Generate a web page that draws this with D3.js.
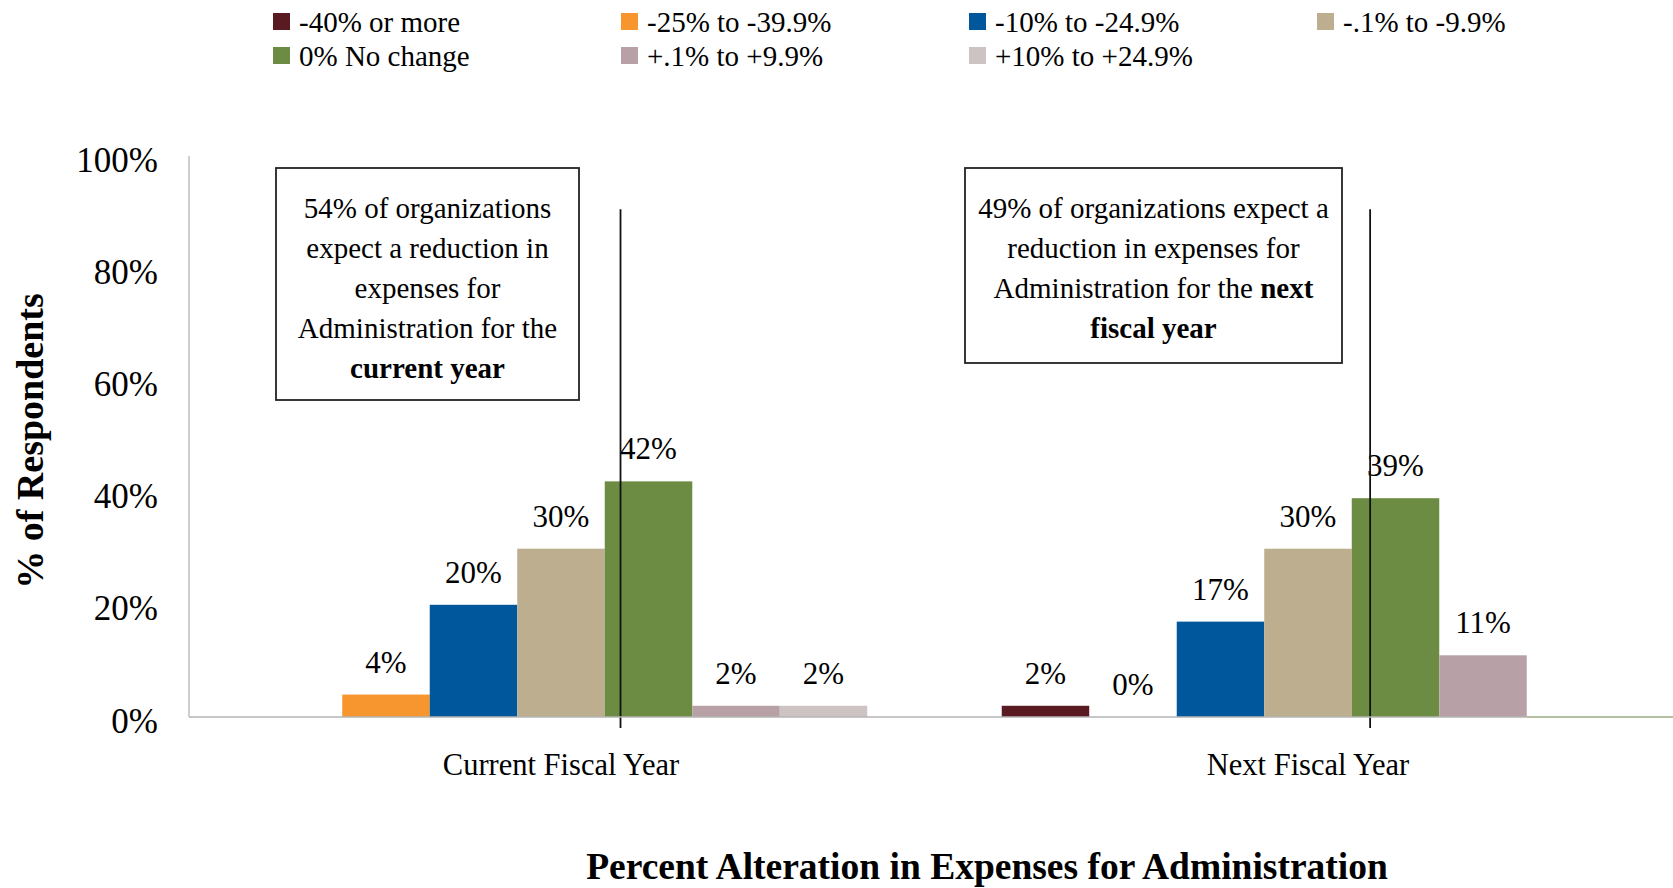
<!DOCTYPE html>
<html>
<head>
<meta charset="utf-8">
<script src="https://cdn.jsdelivr.net/npm/d3@7"></script>
<style>
  body { margin: 0; background: #fff; }
  svg { display: block; font-family: "Liberation Serif", "Times New Roman", serif; }
</style>
</head>
<body>
<svg></svg>
<script>
// chart data
const categories = ['Current Fiscal Year', 'Next Fiscal Year'];
const seriesNames = ['-40% or more', '-25% to -39.9%', '-10% to -24.9%', '-.1% to -9.9%',
    '0% No change', '+.1% to +9.9%', '+10% to +24.9%'];
const seriesColors = ['#5a1a22', '#f7962f', '#01579b', '#bcae8e', '#6b8c42', '#b8a1a6', '#cdc3c3'];
const currentValues = [0, 4, 20, 30, 42, 2, 2];
const nextValues = [2, 0, 17, 30, 39, 11, 0];
// which labels are printed (null = no label)
const currentLabels = [null, '4%', '20%', '30%', '42%', '2%', '2%'];
const nextLabels = ['2%', '0%', '17%', '30%', '39%', '11%', null];
const yTicks = [0, 20, 40, 60, 80, 100];

const values = [currentValues, nextValues];
const labels = [currentLabels, nextLabels];

const size = {w: 1673, h: 888};
const margin = {t: 156, b: 171, l: 189};

const svg = d3.select('svg')
    .attr('width', size.w)
    .attr('height', size.h);

// scales
const x0 = d3.scaleBand()
    .domain(categories)
    .range([margin.l, 1680])
    .paddingInner(0.18)
    .paddingOuter(0.088);

const x1 = d3.scaleBand()
    .domain(seriesNames)
    .range([0, x0.bandwidth()]);

const y = d3.scaleLinear()
    .domain([0, 100])
    .range([size.h - margin.b, margin.t]);

// y axis line
svg.append('line')
    .attr('x1', margin.l).attr('x2', margin.l)
    .attr('y1', y(100)).attr('y2', y(0))
    .attr('stroke', '#cfcfcf')
    .attr('stroke-width', 2);

// y tick labels
svg.append('g')
    .selectAll('text')
    .data(yTicks)
    .join('text')
    .attr('x', margin.l - 31)
    .attr('y', d => y(d) + 4)
    .attr('text-anchor', 'end')
    .attr('dominant-baseline', 'central')
    .attr('font-size', 35)
    .text(d => d + '%');

// bars
const groups = svg.append('g')
    .selectAll('g')
    .data(categories)
    .join('g')
    .attr('transform', d => 'translate(' + x0(d) + ',0)');

groups.selectAll('rect')
    .data((d, i) => values[i].map((v, j) => ({name: seriesNames[j], value: v, color: seriesColors[j]})))
    .join('rect')
    .attr('x', d => x1(d.name))
    .attr('y', d => y(d.value))
    .attr('width', x1.bandwidth())
    .attr('height', d => y(0) - y(d.value))
    .attr('fill', d => d.color);

// value labels
groups.selectAll('text.val')
    .data((d, i) => values[i].map((v, j) => ({name: seriesNames[j], value: v, label: labels[i][j]}))
        .filter(d => d.label !== null))
    .join('text')
    .classed('val', true)
    .attr('x', d => x1(d.name) + x1.bandwidth() / 2)
    .attr('y', d => y(d.value) - 22)
    .attr('text-anchor', 'middle')
    .attr('font-size', 31)
    .text(d => d.label);

// baseline (gray, turning green after the last bar of the second group)
const greenFrom = x0(categories[1]) + x1(seriesNames[6]);
svg.append('line')
    .attr('x1', margin.l).attr('x2', greenFrom)
    .attr('y1', y(0)).attr('y2', y(0))
    .attr('stroke', '#b5b5b5')
    .attr('stroke-width', 1.5);
svg.append('line')
    .attr('x1', greenFrom).attr('x2', size.w)
    .attr('y1', y(0)).attr('y2', y(0))
    .attr('stroke', '#9aab82')
    .attr('stroke-width', 1.5);

// category labels
svg.append('g')
    .selectAll('text')
    .data(categories)
    .join('text')
    .attr('x', d => x0(d) + x0.bandwidth() / 2)
    .attr('y', 765)
    .attr('text-anchor', 'middle')
    .attr('dominant-baseline', 'central')
    .attr('font-size', 30.5)
    .text(d => d);

// vertical marker lines through the "no change" bars
const markerTop = 90.5;
groups.append('line')
    .attr('x1', (d, i) => x1('0% No change') + x1.bandwidth() * (i ? 0.21 : 0.18))
    .attr('x2', (d, i) => x1('0% No change') + x1.bandwidth() * (i ? 0.21 : 0.18))
    .attr('y1', y(markerTop))
    .attr('y2', y(0) + 11)
    .attr('stroke', '#111')
    .attr('stroke-width', 1.8);

// annotation boxes
const notes = [
    {x: 276, y: 168, w: 303, h: 232, lines: [
        [['54% of organizations', false]],
        [['expect a reduction in', false]],
        [['expenses for', false]],
        [['Administration for the', false]],
        [['current year', true]]
    ]},
    {x: 965, y: 168, w: 377, h: 195, lines: [
        [['49% of organizations expect a', false]],
        [['reduction in expenses for', false]],
        [['Administration for the ', false], ['next', true]],
        [['fiscal year', true]]
    ]}
];

const note = svg.append('g')
    .selectAll('g')
    .data(notes)
    .join('g');

note.append('rect')
    .attr('x', d => d.x).attr('y', d => d.y)
    .attr('width', d => d.w).attr('height', d => d.h)
    .attr('fill', '#fff')
    .attr('stroke', '#222')
    .attr('stroke-width', 1.8);

note.each(function (d) {
    const g = d3.select(this);
    d.lines.forEach((line, i) => {
        const t = g.append('text')
            .attr('x', d.x + d.w / 2)
            .attr('y', d.y + 40 + i * 40)
            .attr('text-anchor', 'middle')
            .attr('dominant-baseline', 'central')
            .attr('font-size', 29);
        line.forEach(part => {
            t.append('tspan')
                .attr('font-weight', part[1] ? 'bold' : 'normal')
                .text(part[0]);
        });
    });
});

// legend
const legend = svg.append('g')
    .selectAll('g')
    .data(seriesNames)
    .join('g')
    .attr('transform', (d, i) => 'translate(' + (273 + (i % 4) * 348) + ',' + (22 + Math.floor(i / 4) * 34) + ')');

legend.append('rect')
    .attr('x', 0).attr('y', -9)
    .attr('width', 17).attr('height', 17)
    .attr('fill', (d, i) => seriesColors[i]);

legend.append('text')
    .attr('x', 26)
    .attr('y', 0)
    .attr('dominant-baseline', 'central')
    .attr('font-size', 29)
    .text(d => d);

// axis titles
svg.append('text')
    .attr('transform', 'translate(30,' + 441 + ') rotate(-90)')
    .attr('text-anchor', 'middle')
    .attr('dominant-baseline', 'central')
    .attr('font-size', 38)
    .attr('font-weight', 'bold')
    .text('% of  Respondents');

svg.append('text')
    .attr('x', 987)
    .attr('y', 866)
    .attr('text-anchor', 'middle')
    .attr('dominant-baseline', 'central')
    .attr('font-size', 37.5)
    .attr('font-weight', 'bold')
    .text('Percent Alteration in Expenses for Administration');
</script>
</body>
</html>
